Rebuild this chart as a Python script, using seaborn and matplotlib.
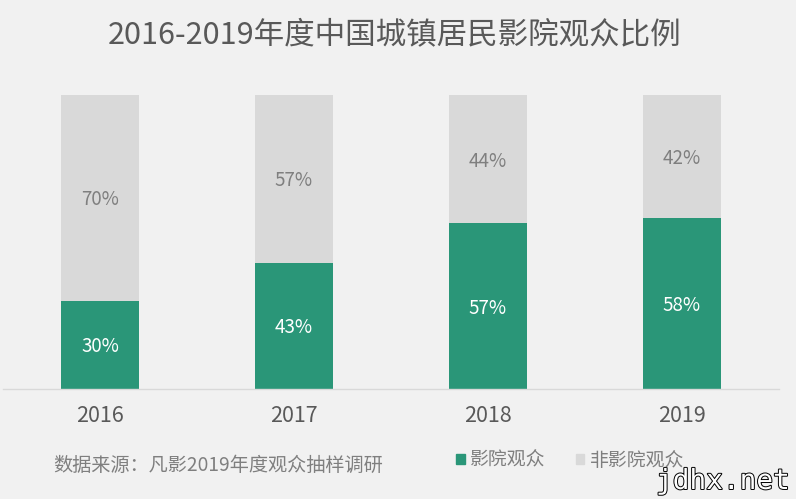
import matplotlib
matplotlib.use('Agg')
import matplotlib.pyplot as plt
import matplotlib.patheffects as pe
from matplotlib.patches import Patch
import pandas as pd
import seaborn as sns

years = ['2016', '2017', '2018', '2019']
audience = [30, 43, 57, 58]
non_audience = [70, 57, 44, 42]

GREEN = '#2a9678'
GRAY = '#d9d9d9'
BG = '#f1f1f1'

sns.set_theme(style='white')
plt.rcParams['font.family'] = ['Noto Sans CJK SC', 'DejaVu Sans']

df = pd.DataFrame({'year': years, 'audience': audience, 'non_audience': non_audience})
# 100%堆叠，2018年两项相加是101，所以按合计换算
df['total'] = df['audience'] + df['non_audience']
df['share'] = df['audience'] / df['total'] * 100
df['rest'] = df['non_audience'] / df['total'] * 100

fig = plt.figure(figsize=(7.96, 4.99), dpi=100, facecolor=BG)
ax = fig.add_axes([3 / 796, 1 - 389 / 499, 776 / 796, 294 / 499], facecolor=BG)

sns.barplot(data=df, x='year', y='share', color=GREEN, width=0.402, saturation=1, linewidth=0, ax=ax)
sns.barplot(data=df, x='year', y='rest', bottom=df['share'], color=GRAY, width=0.402, saturation=1, linewidth=0, ax=ax)

green_bars = ax.containers[0]
gray_bars = ax.containers[1]
ax.bar_label(green_bars, labels=[f'{v}%' for v in audience], label_type='center', padding=-1.5,
             color='white', fontsize=13.5, fontweight='light')
ax.bar_label(gray_bars, labels=[f'{v}%' for v in non_audience], label_type='center', padding=-1.5,
             color='#7f7f7f', fontsize=13.5, fontweight='light')

ax.set_xlim(-0.5, 3.5)
ax.set_ylim(0, 100)
ax.set_xlabel('')
ax.set_ylabel('')
ax.set_yticks([])
ax.tick_params(axis='x', length=0, pad=11.5, labelsize=15.5, labelcolor='#595959')
for lab in ax.get_xticklabels():
    lab.set_fontweight('light')
sns.despine(ax=ax, left=True)
ax.spines['bottom'].set_color('#d9d9d9')
ax.spines['bottom'].set_linewidth(1.0)

fig.text(395 / 796, 1 - 35 / 499, '2016-2019年度中国城镇居民影院观众比例', ha='center', va='center',
         fontsize=22, color='#595959')
fig.text(53 / 796, 1 - 465 / 499, '数据来源：凡影2019年度观众抽样调研', ha='left', va='center',
         fontsize=13.8, color='#7f7f7f', fontweight='light')

handles = [Patch(color=GREEN, label='影院观众'), Patch(color=GRAY, label='非影院观众')]
leg = fig.legend(handles=handles, loc='center left', bbox_to_anchor=(456 / 796, 1 - 460 / 499),
                 ncol=2, frameon=False, fontsize=13.6, handlelength=0.45, handleheight=0.45,
                 handletextpad=0.3, columnspacing=1.6, borderpad=0, borderaxespad=0)
for t in leg.get_texts():
    t.set_color('#7f7f7f')
    t.set_fontweight('light')

# 右下角水印
fig.text(790 / 796, 1 - 481 / 499, 'jdhx.net', ha='right', va='center', fontsize=20,
         color='white', family=['DejaVu Sans Mono', 'DejaVu Sans'],
         path_effects=[pe.withStroke(linewidth=1.4, foreground='black')])

fig.savefig('out.png', dpi=100, facecolor=BG)
